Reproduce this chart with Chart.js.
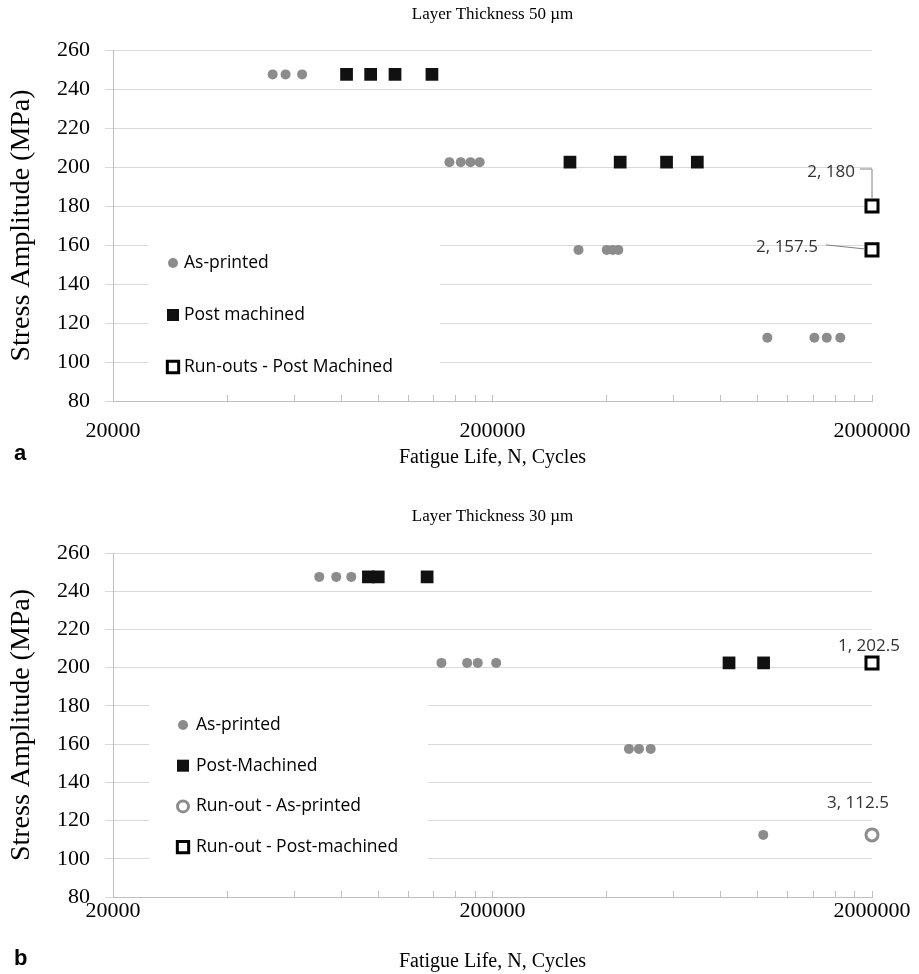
<!DOCTYPE html>
<html>
<head>
<meta charset="utf-8">
<script src="https://cdn.jsdelivr.net/npm/chart.js@4.4.1/dist/chart.umd.min.js"></script>
<style>
  body { margin: 0; background: #fff; }
  #wrap { position: relative; width: 919px; height: 974px; }
  canvas { position: absolute; left: 0; }
  .panel { position: absolute; left: 14px; font: bold 22px "Liberation Sans", Arial, sans-serif; }
</style>
</head>
<body>
<div id="wrap">
  <canvas id="chartA" width="919" height="487" style="top:0"></canvas>
  <canvas id="chartB" width="919" height="487" style="top:487px"></canvas>
  <div class="panel" style="top:440px">a</div>
  <div class="panel" style="top:945px">b</div>
</div>
<script>
// axis ticks (Excel style log axis, base 20000)
var xMin = 20000, xMax = 2000000;
var xTickValues = [20000, 40000, 60000, 80000, 100000, 120000, 140000, 160000, 180000,
                   200000, 400000, 600000, 800000, 1000000, 1200000, 1400000, 1600000, 1800000, 2000000];
var xTickLabels = [20000, 200000, 2000000];
var yMin = 80, yMax = 260, yStep = 20;

// (a) layer thickness 50 um
var a_asPrinted_N = [52700, 57000, 63000, 154000, 165000, 175000, 185000, 337000, 400000, 415000, 429000, 1060000, 1410000, 1520000, 1650000];
var a_asPrinted_S = [247.5, 247.5, 247.5, 202.5, 202.5, 202.5, 202.5, 157.5, 157.5, 157.5, 157.5, 112.5, 112.5, 112.5, 112.5];
var a_machined_N = [82500, 95500, 110700, 138500, 320000, 434000, 575000, 693000];
var a_machined_S = [247.5, 247.5, 247.5, 247.5, 202.5, 202.5, 202.5, 202.5];
var a_runout_N = [2000000, 2000000];
var a_runout_S = [180, 157.5];
var a_notes = ['2, 180', '2, 157.5'];

// (b) layer thickness 30 um
var b_asPrinted_N = [69900, 77500, 84900, 146700, 171500, 182900, 204500, 457700, 486400, 522300, 1034000];
var b_asPrinted_S = [247.5, 247.5, 247.5, 202.5, 202.5, 202.5, 202.5, 157.5, 157.5, 157.5, 112.5];
var b_machined_N = [94200, 100000, 134500, 840000, 1036000];
var b_machined_S = [247.5, 247.5, 247.5, 202.5, 202.5];
var b_runoutAP_N = [2000000];
var b_runoutAP_S = [112.5];
var b_runoutPM_N = [2000000];
var b_runoutPM_S = [202.5];
var b_notes = ['1, 202.5', '3, 112.5'];

var GRAY = '#8c8c8c';
var SERIF = '"Liberation Serif", "Times New Roman", serif';
var SANS = '"Open Sans", "Noto Sans", sans-serif';

function pts(n, s) {
	return n.map(function(v, i) { return { x: v, y: s[i] }; });
}

// legend drawn inside the plot area, on a white box
var insideLegend = {
	id: 'insideLegend',
	beforeDatasetsDraw: function(chart, args, opts) {
		var ctx = chart.ctx;
		ctx.save();
		ctx.fillStyle = '#fff';
		ctx.fillRect(opts.left, opts.top, opts.width, opts.height);
		chart.data.datasets.forEach(function(ds, i) {
			var y = opts.firstRow + i * opts.rowGap;
			ctx.fillStyle = ds.backgroundColor;
			ctx.strokeStyle = ds.borderColor;
			ctx.lineWidth = ds.borderWidth;
			Chart.helpers.drawPoint(ctx, {
				pointStyle: ds.pointStyle,
				radius: ds.legendRadius,
				borderWidth: ds.borderWidth,
				rotation: 0
			}, opts.markerX, y);
			ctx.fillStyle = '#000';
			ctx.font = '17.5px ' + SANS;
			ctx.textAlign = 'left';
			ctx.textBaseline = 'middle';
			ctx.fillText(ds.label, opts.textX, y);
		});
		ctx.restore();
	}
};

// data labels with leader lines next to the run-out points
var pointNotes = {
	id: 'pointNotes',
	afterDatasetsDraw: function(chart, args, opts) {
		var ctx = chart.ctx;
		ctx.save();
		ctx.font = '17px ' + SANS;
		ctx.textBaseline = 'middle';
		opts.notes.forEach(function(n) {
			var el = chart.getDatasetMeta(n.dataset).data[n.index];
			var tx = el.x + n.dx, ty = el.y + n.dy;
			ctx.fillStyle = '#333';
			ctx.textAlign = n.align;
			ctx.fillText(n.text, tx, ty);
			if (n.leader) {
				ctx.strokeStyle = '#808080';
				ctx.lineWidth = 1;
				ctx.beginPath();
				ctx.moveTo(el.x + n.leader[0][0], el.y + n.leader[0][1]);
				for (var k = 1; k < n.leader.length; k++) {
					ctx.lineTo(el.x + n.leader[k][0], el.y + n.leader[k][1]);
				}
				ctx.stroke();
			}
		});
		ctx.restore();
	}
};

function makeOptions(p) {
	return {
		responsive: false,
		animation: false,
		devicePixelRatio: 1,
		layout: { padding: { left: 0, right: 47, top: 0, bottom: 0 } },
		scales: {
			x: {
				type: 'logarithmic',
				min: xMin,
				max: xMax,
				afterBuildTicks: function(axis) {
					axis.ticks = xTickValues.map(function(v) { return { value: v }; });
				},
				afterFit: function(axis) {
					axis.height = p.xHeight;
					axis.paddingLeft = 0;
					axis.paddingRight = 0;
				},
				ticks: {
					autoSkip: false,
					maxRotation: 0,
					padding: p.xTickPad,
					color: '#000',
					font: { family: SERIF, size: 22 },
					callback: function(v) { return xTickLabels.indexOf(v) >= 0 ? String(v) : ''; }
				},
				grid: { drawOnChartArea: false, tickLength: -6, color: '#bfbfbf' },
				border: { color: '#bfbfbf' },
				title: {
					display: true,
					text: 'Fatigue Life, N, Cycles',
					color: '#000',
					font: { family: SERIF, size: 20, lineHeight: p.xTitleLH },
					padding: { top: 0, bottom: p.xTitlePad }
				}
			},
			y: {
				min: yMin,
				max: yMax,
				afterFit: function(axis) { axis.width = 113; },
				ticks: {
					stepSize: yStep,
					padding: 15,
					color: '#000',
					font: { family: SERIF, size: 22 }
				},
				grid: { color: '#d9d9d9', tickLength: 8 },
				border: { color: '#bfbfbf' },
				title: {
					display: true,
					text: 'Stress Amplitude (MPa)',
					color: '#000',
					font: { family: SERIF, size: 28 },
					padding: { top: 5, bottom: 0 }
				}
			}
		},
		plugins: {
			legend: { display: false },
			tooltip: { enabled: false },
			title: {
				display: true,
				fullSize: false,
				text: p.title,
				color: '#000',
				font: { family: SERIF, size: 17, weight: 'normal' },
				padding: { top: p.titleTop, bottom: p.titleBottom }
			},
			insideLegend: p.legend,
			pointNotes: { notes: p.notes }
		}
	};
}

new Chart(document.getElementById('chartA'), {
	type: 'scatter',
	data: {
		datasets: [
			{ label: 'As-printed', data: pts(a_asPrinted_N, a_asPrinted_S), pointStyle: 'circle', pointRadius: 5, legendRadius: 5,
			  backgroundColor: GRAY, borderColor: GRAY, borderWidth: 0, clip: false },
			{ label: 'Post machined', data: pts(a_machined_N, a_machined_S), pointStyle: 'rect', pointRadius: 9, legendRadius: 8.5,
			  backgroundColor: '#111', borderColor: '#111', borderWidth: 0, clip: false },
			{ label: 'Run-outs - Post Machined', data: pts(a_runout_N, a_runout_S), pointStyle: 'rect', pointRadius: 8.5, legendRadius: 8,
			  backgroundColor: '#fff', borderColor: '#000', borderWidth: 3, clip: false }
		]
	},
	options: makeOptions({
		title: 'Layer Thickness 50 µm',
		titleTop: 4.8, titleBottom: 24.8,
		xHeight: 86, xTickPad: 23, xTitleLH: 1.2, xTitlePad: 17,
		legend: { left: 148, top: 230, width: 292, height: 158, firstRow: 263, rowGap: 52, markerX: 173, textX: 184 },
		notes: [
			{ dataset: 2, index: 0, text: a_notes[0], align: 'right', dx: -17, dy: -34,
			  leader: [[-12, -37], [0, -37], [0, -8]] },
			{ dataset: 2, index: 1, text: a_notes[1], align: 'right', dx: -54, dy: -3,
			  leader: [[-46, -5], [-8, -1]] }
		]
	}),
	plugins: [insideLegend, pointNotes]
});

new Chart(document.getElementById('chartB'), {
	type: 'scatter',
	data: {
		datasets: [
			{ label: 'As-printed', data: pts(b_asPrinted_N, b_asPrinted_S), pointStyle: 'circle', pointRadius: 5, legendRadius: 5,
			  backgroundColor: GRAY, borderColor: GRAY, borderWidth: 0, clip: false },
			{ label: 'Post-Machined', data: pts(b_machined_N, b_machined_S), pointStyle: 'rect', pointRadius: 9, legendRadius: 8.5,
			  backgroundColor: '#111', borderColor: '#111', borderWidth: 0, clip: false },
			{ label: 'Run-out - As-printed', data: pts(b_runoutAP_N, b_runoutAP_S), pointStyle: 'circle', pointRadius: 6, legendRadius: 5.5,
			  backgroundColor: '#fff', borderColor: GRAY, borderWidth: 3, clip: false },
			{ label: 'Run-out - Post-machined', data: pts(b_runoutPM_N, b_runoutPM_S), pointStyle: 'rect', pointRadius: 8.5, legendRadius: 8,
			  backgroundColor: '#fff', borderColor: '#000', borderWidth: 3, clip: false }
		]
	},
	options: makeOptions({
		title: 'Layer Thickness 30 µm',
		titleTop: 19.8, titleBottom: 25.8,
		xHeight: 77, xTickPad: 7, xTitleLH: 1, xTitlePad: 2,
		legend: { left: 149, top: 200, width: 279, height: 185, firstRow: 238, rowGap: 40.7, markerX: 183, textX: 196 },
		notes: [
			{ dataset: 3, index: 0, text: b_notes[0], align: 'center', dx: -3, dy: -17 },
			{ dataset: 2, index: 0, text: b_notes[1], align: 'center', dx: -14, dy: -32 }
		]
	}),
	plugins: [insideLegend, pointNotes]
});
</script>
</body>
</html>
